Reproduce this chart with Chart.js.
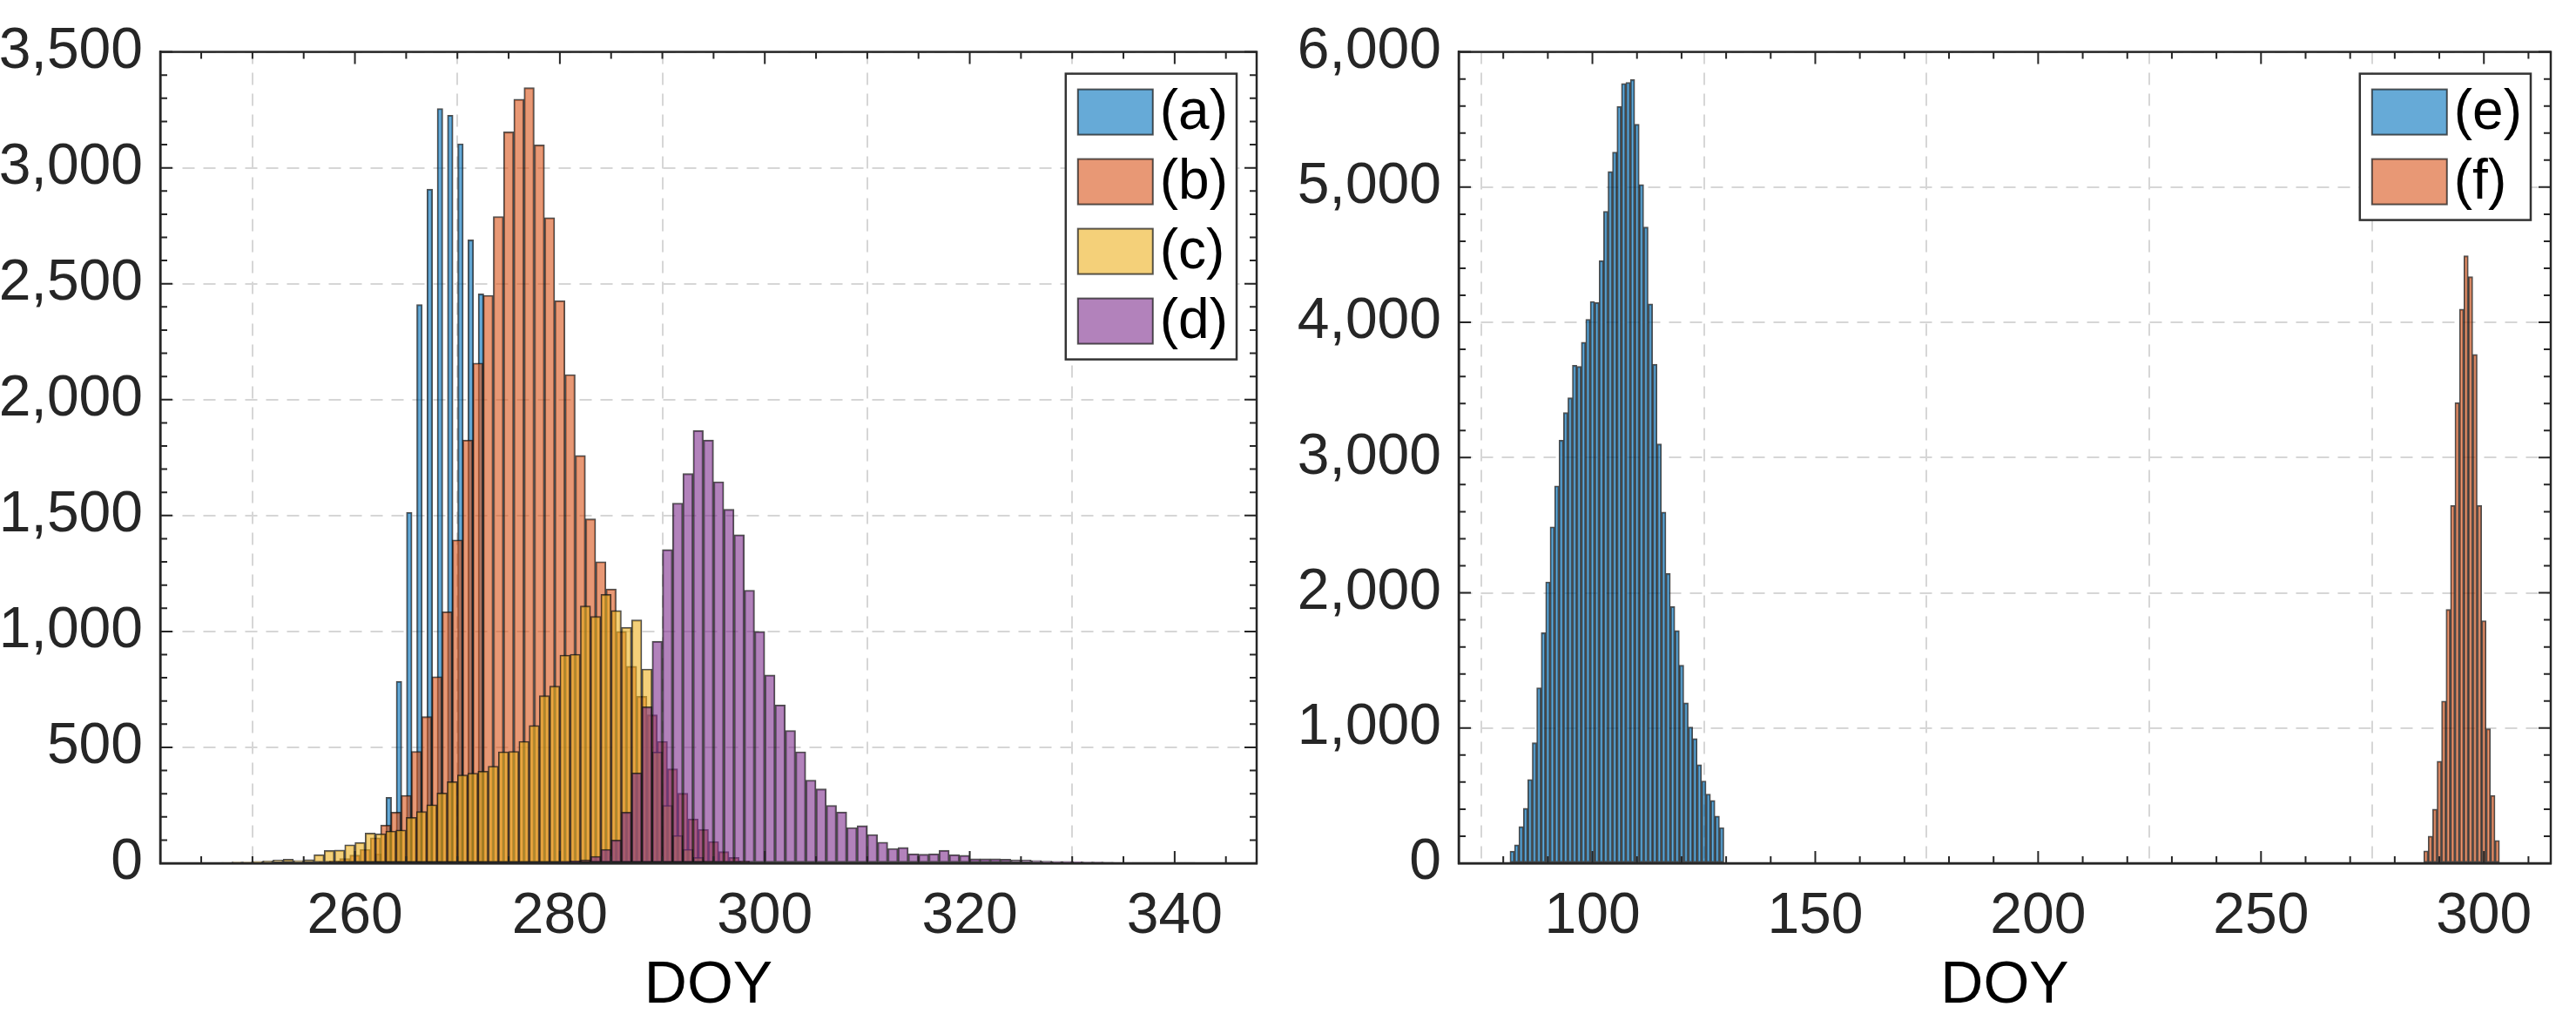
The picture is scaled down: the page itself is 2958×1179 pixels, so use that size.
<!DOCTYPE html>
<html>
<head>
<meta charset="utf-8">
<script src="https://cdn.jsdelivr.net/npm/chart.js@4.4.1/dist/chart.umd.min.js"></script>
<style>
  body { margin: 0; background: #fff; }
  .panel { position: absolute; top: 0; width: 1479px; height: 1179px; }
</style>
</head>
<body>
<div class="panel" style="left:0"><canvas id="canvasLeft"></canvas></div>
<div class="panel" style="left:1479px"><canvas id="canvasRight"></canvas></div>
<script>
// ---- data (counts per 1-day DOY bin) ----
const labelsLeft = ['(a)', '(b)', '(c)', '(d)'];
const labelsRight = ['(e)', '(f)'];

const startA = 262.3;   // bar centres
const countA = [40, 284, 785, 1514, 2410, 2908, 3256, 3227, 3104, 2689, 2456];

const startB = 257;
const countB = [5, 10, 20, 35, 60, 110, 165, 220, 293, 483, 633, 805, 1085, 1395, 1826, 2158,
  2450, 2790, 3155, 3296, 3346, 3099, 2785, 2427, 2108, 1759, 1486, 1301, 1183, 1000,
  850, 720, 640, 526, 407, 302, 191, 146, 94, 50, 25, 10];

const startC = 247.5;
const countC = [3, 5, 5, 8, 10, 14, 18, 12, 16, 37, 55, 57, 80, 90, 130, 127, 139, 143, 198,
  223, 252, 303, 352, 381, 389, 397, 419, 481, 483, 526, 594, 723, 764, 898, 902, 1110,
  1065, 1160, 1090, 1018, 1050, 838, 480, 250, 120, 60, 25, 10];

const startD = 280.5;
const countD = [5, 10, 15, 30, 60, 100, 220, 390, 675, 958, 1353, 1554, 1681, 1867, 1826,
  1646, 1527, 1417, 1178, 1000, 812, 683, 573, 481, 359, 321, 250, 221, 154, 162, 124,
  91, 64, 68, 41, 39, 41, 56, 37, 34, 19, 19, 19, 18, 15, 14, 12, 9, 8, 8, 6, 5, 5, 4,
  3, 3, 2, 2, 2, 1, 1, 1];

const startE = 82;
const countE = [89, 136, 271, 407, 620, 891, 1298, 1705, 2081, 2488, 2791, 3128, 3333, 3442,
  3682, 3674, 3853, 4023, 4155, 4147, 4457, 4822, 5116, 5260, 5597, 5767, 5775, 5795,
  5465, 5019, 4705, 4136, 3690, 3101, 2597, 2143, 1899, 1721, 1465, 1186, 1008, 922,
  729, 609, 512, 465, 349, 264];

const startF = 287;
const countF = [92, 200, 400, 754, 1200, 1877, 2646, 3406, 4098, 4492, 4338, 3763, 2646,
  1794, 994, 502, 169];

const xTicksLeft = [260, 280, 300, 320, 340];
const xTicksRight = [100, 150, 200, 250, 300];

// ---- styling ----
const FONT = "'Liberation Sans', Arial, sans-serif";
const TEXT = '#262626';
const fills = {
    blue: 'rgba(0,114,189,0.6)',
    orange: 'rgba(217,83,25,0.6)',
    yellow: 'rgba(237,177,32,0.6)',
    purple: 'rgba(126,47,142,0.6)'
};

function toPoints(start, counts)
{
    return counts.map((c, i) => ({ x: start + i, y: c }));
}

function makeSet(label, start, counts, color, order, widthFrac)
{
    return {
        label: label,
        data: toPoints(start, counts),
        backgroundColor: color,
        borderColor: 'rgba(20,20,20,0.75)',
        borderWidth: 1.5,
        borderSkipped: false,
        order: order,
        widthFrac: widthFrac
    };
}

// frame, inner ticks and boxed legend
const framePlugin = {
    id: 'frame',
    afterDatasetsDraw(chart, args, opts) {
        const { ctx, chartArea: a, scales } = chart;
        ctx.save();
        ctx.strokeStyle = TEXT;
        ctx.lineWidth = 2.5;
        ctx.strokeRect(a.left, a.top, a.right - a.left, a.bottom - a.top);

        // inner ticks
        ctx.lineWidth = 2;
        const xs = scales.x, ys = scales.y;
        for (let v = Math.ceil(xs.min / opts.xMinor) * opts.xMinor; v <= xs.max; v += opts.xMinor) {
            const px = xs.getPixelForValue(v);
            const len = v % opts.xMajor === 0 ? 14 : 8;
            ctx.beginPath();
            ctx.moveTo(px, a.bottom); ctx.lineTo(px, a.bottom - len);
            ctx.moveTo(px, a.top); ctx.lineTo(px, a.top + len);
            ctx.stroke();
        }
        for (let v = 0; v <= ys.max; v += opts.yMinor) {
            const py = ys.getPixelForValue(v);
            const len = v % opts.yMajor === 0 ? 14 : 8;
            ctx.beginPath();
            ctx.moveTo(a.left, py); ctx.lineTo(a.left + len, py);
            ctx.moveTo(a.right, py); ctx.lineTo(a.right - len, py);
            ctx.stroke();
        }

        // legend
        const sets = chart.data.datasets.slice();
        const rowH = 80, pad = 14, sw = 86, sh = 52;
        ctx.font = '64px ' + FONT;
        let textW = 0;
        sets.forEach(s => { textW = Math.max(textW, ctx.measureText(s.label).width); });
        const boxW = pad + sw + 10 + textW + 8;
        const boxH = sets.length * rowH + 8;
        const bx = a.right - 23 - boxW, by = a.top + 25;
        ctx.fillStyle = '#fff';
        ctx.fillRect(bx, by, boxW, boxH);
        ctx.strokeStyle = '#333';
        ctx.lineWidth = 2.5;
        ctx.strokeRect(bx, by, boxW, boxH);
        sets.forEach((s, i) => {
            const cy = by + 44 + i * rowH;
            ctx.fillStyle = s.backgroundColor;
            ctx.fillRect(bx + pad, cy - sh / 2, sw, sh);
            ctx.strokeStyle = 'rgba(20,20,20,0.7)';
            ctx.lineWidth = 2;
            ctx.strokeRect(bx + pad, cy - sh / 2, sw, sh);
            ctx.fillStyle = '#000';
            ctx.textBaseline = 'middle';
            ctx.fillText(s.label, bx + pad + sw + 8, cy + 2);
        });
        ctx.restore();
    }
};

function buildChart(id, datasets, xMin, xMax, xTicks, yMax, yStep, yAxisWidth, rightPad, frameOpts)
{
    const ctx = document.getElementById(id).getContext('2d');
    const chart = new Chart(ctx, {
        type: 'bar',
        data: { datasets: datasets },
        plugins: [framePlugin],
        options: {
            responsive: true,
            maintainAspectRatio: false,
            devicePixelRatio: 1,
            animation: false,
            layout: { padding: { top: 44, right: rightPad, left: 0, bottom: 0 } },
            plugins: { legend: { display: false }, tooltip: { enabled: false }, frame: frameOpts },
            datasets: { bar: { grouped: false, barPercentage: 1, categoryPercentage: 1 } },
            scales: {
                x: {
                    type: 'linear',
                    min: xMin, max: xMax,
                    offset: false,
                    afterBuildTicks: axis => { axis.ticks = xTicks.map(v => ({ value: v })); },
                    afterFit: axis => { axis.height = 188; },
                    grid: { color: '#d6d6d6', lineWidth: 2, drawTicks: false, tickBorderDash: [14, 10] },
                    border: { display: true, color: TEXT, width: 2.5, dash: [14, 10] },
                    ticks: { color: TEXT, font: { family: FONT, size: 66 }, padding: 22, maxRotation: 0 },
                    title: { display: true, text: 'DOY', color: '#000', font: { family: FONT, size: 68 }, padding: { top: 0, bottom: 6 } }
                },
                y: {
                    min: 0, max: yMax,
                    ticks: { stepSize: yStep, color: TEXT, font: { family: FONT, size: 66 }, padding: 20 },
                    afterFit: axis => { axis.width = yAxisWidth; },
                    grid: { color: '#d6d6d6', lineWidth: 2, drawTicks: false },
                    border: { display: true, color: TEXT, width: 2.5, dash: [14, 10] }
                }
            }
        }
    });
    // bar width = one DOY bin measured on the x scale
    const xs = chart.scales.x;
    const binPx = xs.getPixelForValue(xMin + 1) - xs.getPixelForValue(xMin);
    chart.data.datasets.forEach(ds => { ds.barThickness = binPx * ds.widthFrac; });
    chart.update('none');
    return chart;
}

buildChart('canvasLeft', [
    makeSet(labelsLeft[0], startA, countA, fills.blue, 4, 0.55),
    makeSet(labelsLeft[1], startB, countB, fills.orange, 3, 1),
    makeSet(labelsLeft[2], startC, countC, fills.yellow, 2, 1),
    makeSet(labelsLeft[3], startD, countD, fills.purple, 1, 1)
], 241, 348, xTicksLeft, 3500, 500, 184, 36,
   { xMinor: 5, xMajor: 20, yMinor: 100, yMajor: 500 });

buildChart('canvasRight', [
    makeSet(labelsRight[0], startE, countE, fills.blue, 2, 1),
    makeSet(labelsRight[1], startF, countF, fills.orange, 1, 1)
], 70, 315, xTicksRight, 6000, 1000, 196, 29,
   { xMinor: 10, xMajor: 50, yMinor: 200, yMajor: 1000 });
</script>
</body>
</html>
